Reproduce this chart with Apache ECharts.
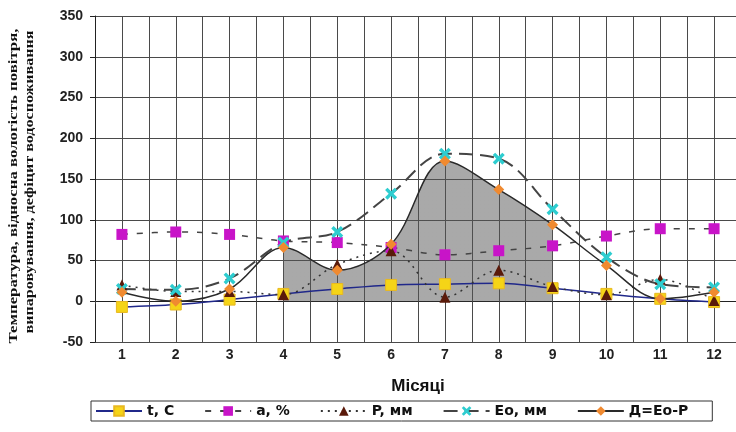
<!DOCTYPE html>
<html><head><meta charset="utf-8">
<script src="https://cdn.jsdelivr.net/npm/echarts@6/dist/echarts.min.js"></script>
<style>html,body{margin:0;padding:0;background:#fff}#c{width:736px;height:432px}</style>
</head><body><div id="c"></div>
<script>
const months = [1,2,3,4,5,6,7,8,9,10,11,12];
const tVals  = [-7, -4, 2, 9, 15, 20, 21, 22, 16, 9, 3, -1];
const aVals  = [82, 85, 82, 74, 72, 66, 57, 62, 68, 80, 89, 89];
const pVals  = [20, 12, 12, 8, 45, 62, 5, 38, 18, 8, 27, 1];
const eoVals = [15, 14, 28, 72, 85, 132, 181, 175, 113, 54, 21, 17];
const dVals  = [11, 0, 15, 66, 38, 70, 172, 137, 94, 44, 3, 11];
const names = ['t, C', 'a, %', 'P, мм', 'Eo, мм', 'Д=Eo-P'];
const yTitle = ['Температура, відносна вологість повітря,', 'випаровування, дефіцит водоспоживання'];
const xTitle = 'Місяці';

const pts = v => months.map((m, i) => [m, v[i]]);
const xPath = 'path://M2,0L5,3L8,0L10,2L7,5L10,8L8,10L5,7L2,10L0,8L3,5L0,2Z';
const SM = 0.35;

// y-title: rotated text, stretched along its length to match the reference
const titleFont = 'bold 13px "Liberation Serif"';
const ctx = document.createElement('canvas').getContext('2d');
ctx.font = titleFont;
const titleSpec = [
  { x: 14, y: 186, len: 315 },
  { x: 30, y: 182, len: 303 }
];
const titleGraphics = yTitle.map((txt, i) => {
  const w = ctx.measureText(txt).width || 1;
  return {
    type: 'text', x: titleSpec[i].x, y: titleSpec[i].y, rotation: Math.PI / 2,
    scaleX: titleSpec[i].len / w, scaleY: 1,
    style: { text: txt, font: titleFont, fill: '#111', align: 'center', verticalAlign: 'middle' }
  };
});

const chart = echarts.init(document.getElementById('c'));
chart.setOption({
  animation: false,
  grid: { left: 95, top: 16, width: 646, height: 326, outerBoundsMode: 'none' },
  graphic: titleGraphics,
  xAxis: {
    type: 'value', min: 0.5, max: 12.5, interval: 0.5,
    name: xTitle, nameLocation: 'middle', nameGap: 36,
    nameTextStyle: { fontSize: 17, fontWeight: 'bold', color: '#111', fontFamily: 'Liberation Sans, Arial' },
    axisLine: { show: true, lineStyle: { color: '#222', width: 1 } },
    axisTick: { show: true, length: 3, lineStyle: { color: '#444' } },
    axisLabel: { margin: 6, fontSize: 14, fontWeight: 'bold', color: '#222', fontFamily: 'Liberation Sans, Arial',
      formatter: v => Number.isInteger(v) ? String(v) : '' },
    splitLine: { show: true, lineStyle: { color: '#4a4a4a', width: 1 } }
  },
  yAxis: {
    type: 'value', min: -50, max: 350, interval: 50,
    axisLine: { show: true, lineStyle: { color: '#222', width: 1 } },
    axisTick: { show: true, length: 5, lineStyle: { color: '#222' } },
    axisLabel: { margin: 12, fontSize: 14, fontWeight: 'bold', color: '#222', fontFamily: 'Liberation Sans, Arial' },
    splitLine: { show: true, lineStyle: { color: '#4a4a4a', width: 1 } }
  },
  legend: {
    data: names, left: 91, top: 401,
    padding: [3, 24, 3, 4], itemGap: 30, itemWidth: 46, itemHeight: 12,
    borderColor: '#333', borderWidth: 1,
    textStyle: { fontSize: 14, fontWeight: 'bold', color: '#111', fontFamily: 'DejaVu Sans' }
  },
  visualMap: {
    show: false, type: 'piecewise', dimension: 0, seriesIndex: 0,
    pieces: [{ gte: 4, lte: 9, color: 'rgba(85,85,85,0.72)' }],
    outOfRange: { color: 'rgba(0,0,0,0)' }
  },
  series: [
    { name: 'area', type: 'line', data: pts(dVals), smooth: SM, symbol: 'none', silent: true, z: 1,
      lineStyle: { width: 0 }, areaStyle: { origin: 0 } },
    { name: names[0], type: 'line', data: pts(tVals), smooth: SM, z: 3,
      symbol: 'rect', symbolSize: 11, itemStyle: { color: '#F5D417', borderColor: '#E8B820', borderWidth: 1 },
      lineStyle: { color: '#20288A', width: 1.5 } },
    { name: names[1], type: 'line', data: pts(aVals), smooth: SM, z: 3,
      symbol: 'rect', symbolSize: 11, itemStyle: { color: '#C814C8' },
      lineStyle: { color: '#444', width: 1.5, type: [6, 9] } },
    { name: names[2], type: 'line', data: pts(pVals), smooth: SM, z: 3,
      symbol: 'triangle', symbolSize: 11, itemStyle: { color: '#5A1A0A' },
      lineStyle: { color: '#333', width: 1.5, type: [2, 5] } },
    { name: names[3], type: 'line', data: pts(eoVals), smooth: SM, z: 3,
      symbol: xPath, symbolSize: 12, itemStyle: { color: '#2ECDD0' },
      lineStyle: { color: '#444', width: 2, type: [14, 7] } },
    { name: names[4], type: 'line', data: pts(dVals), smooth: SM, z: 4,
      symbol: 'diamond', symbolSize: 11, itemStyle: { color: '#F08A30' },
      lineStyle: { color: '#2a2a2a', width: 1.5 } }
  ]
});
</script></body></html>
